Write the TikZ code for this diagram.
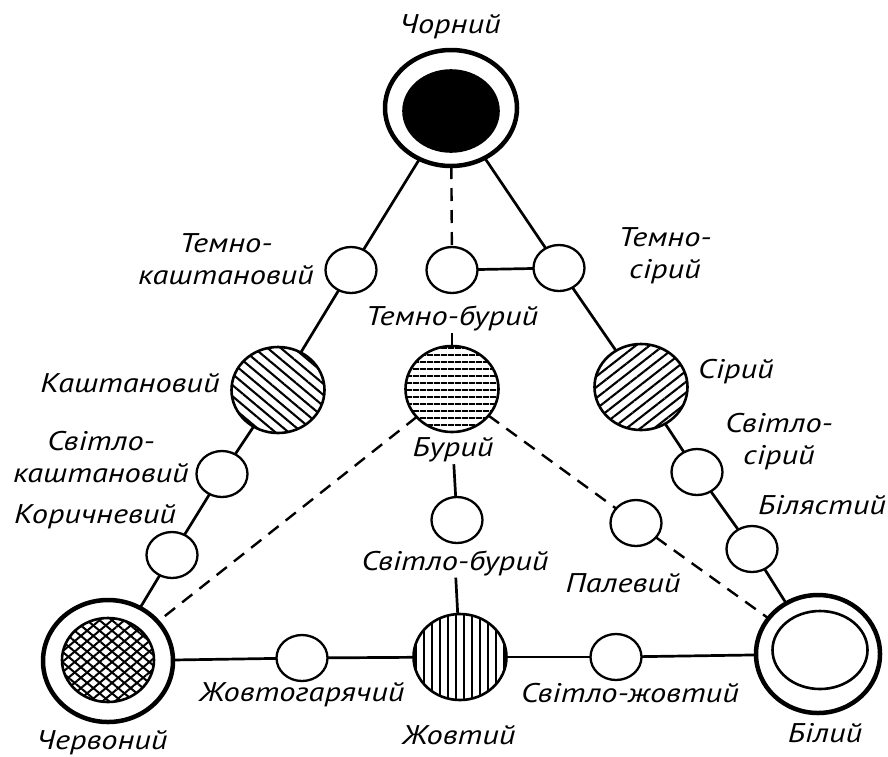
\documentclass[tikz,border=0pt]{standalone}
\usepackage{fontspec}
\newfontfamily\labfont{PT Sans}[FakeStretch=1.2]
\usetikzlibrary{shapes.geometric,patterns.meta}
\begin{document}
\begin{tikzpicture}[x=1pt,y=-1pt,
  every node/.style={inner sep=0pt,outer sep=0pt},
  lbl/.style={font=\labfont\itshape\fontsize{27}{32}\selectfont,align=center,inner sep=2pt},
  smallc/.style={ellipse,draw,line width=2.3pt,minimum width=51pt,minimum height=46pt,fill=white},
  midc/.style={ellipse,draw,line width=2.6pt,minimum width=93pt,minimum height=86pt},
  ring/.style={ellipse,draw,line width=4.5pt,fill=white},
  core/.style={ellipse,draw,line width=2.6pt},
  conn/.style={line width=2.7pt},
  dconn/.style={line width=2.4pt,dash pattern=on 13pt off 9pt}]
\useasboundingbox (0,0) rectangle (888,756);

% big ring nodes
\node[ring,minimum width=132pt,minimum height=116pt] (chor) at (451,108) {};
\node[core,fill=black,minimum width=95pt,minimum height=81pt] (chorc) at (451,111) {};
\node[ring,minimum width=130pt,minimum height=122pt] (cherv) at (108,661) {};
\node[core,minimum width=92pt,minimum height=84pt,
  pattern={Lines[angle=40,distance=8pt,line width=2pt]},
  postaction={pattern={Lines[angle=-40,distance=8pt,line width=2pt]}}] (chervc) at (108,660) {};
\node[ring,minimum width=124pt,minimum height=118pt] (bily) at (818,654) {};
\node[core,minimum width=95pt,minimum height=78pt] (bilyc) at (820,650) {};

% medium hatched nodes
\node[midc,pattern={Lines[angle=-40,distance=8.5pt,line width=2.1pt]}] (kash) at (278,390) {};
\node[midc,pattern={Lines[angle=0,distance=6.5pt,line width=1.9pt]}] (bur) at (452,389) {};
\node[midc,pattern={Lines[angle=38,distance=8.5pt,line width=2.1pt]}] (sir) at (641,387) {};
\node[midc,pattern={Lines[angle=90,distance=8pt,line width=2pt]}] (zh) at (460,657) {};

% small nodes
\node[smallc] (tk) at (351,270) {};
\node[smallc] (skash) at (222,474) {};
\node[smallc] (kor) at (172,555) {};
\node[smallc] (tb) at (452,270) {};
\node[smallc] (sbur) at (457,520) {};
\node[smallc] (ts) at (559,268) {};
\node[smallc] (ssir) at (697,472) {};
\node[smallc] (bil) at (752,549) {};
\node[smallc] (pal) at (636,523) {};
\node[smallc] (zhg) at (302,658) {};
\node[smallc] (szh) at (616,657) {};

% labels
\node[lbl] (lchor) at (450,27) {Чорний};
\node[lbl] (ltk) at (226,259) {Темно-\\каштановий};
\node[lbl] (lts) at (665,256) {Темно-\\сірий};
\node[lbl] (ltb) at (452,318) {Темно-бурий};
\node[lbl] (lkash) at (130,383) {Каштановий};
\node[lbl] (lsir) at (736,372) {Сірий};
\node[lbl] (lskash) at (101,457) {Світло-\\каштановий};
\node[lbl] (lssir) at (779,442) {Світло-\\сірий};
\node[lbl] (lbur) at (453,450) {Бурий};
\node[lbl] (lkor) at (95,517) {Коричневий};
\node[lbl] (lbil) at (822,505) {Білястий};
\node[lbl] (lsbur) at (455,563) {Світло-бурий};
\node[lbl] (lpal) at (623,583) {Палевий};
\node[lbl] (lzhg) at (302,695) {Жовтогарячий};
\node[lbl] (lszh) at (630,693) {Світло-жовтий};
\node[lbl] (lcherv) at (102,743) {Червоний};
\node[lbl] (lzh) at (459,735) {Жовтий};
\node[lbl] (lbily) at (825,733) {Білий};

% solid connectors
\draw[conn] (chor) -- (tk);
\draw[conn] (tk) -- (kash);
\draw[conn] (kash) -- (skash);
\draw[conn] (skash) -- (kor);
\draw[conn] (kor) -- (cherv);
\draw[conn] (chor) -- (ts);
\draw[conn] (ts) -- (sir);
\draw[conn] (sir) -- (ssir);
\draw[conn] (ssir) -- (bil);
\draw[conn] (bil) -- (bily);
\draw[conn] (cherv) -- (zhg);
\draw[conn] (zhg) -- (zh);
\draw[conn] (zh) -- (szh);
\draw[conn] (szh) -- (bily);
\draw[conn] (tb) -- (ts);
\draw[conn] (ltb) -- (bur);
\draw[conn] (lbur) -- (sbur);
\draw[conn] (lsbur) -- (zh);

% dashed connectors
\draw[dconn] (chor) -- (tb);
\draw[dconn] (bur) -- (cherv);
\draw[dconn] (bur) -- (pal);
\draw[dconn] (pal) -- (bily);
\end{tikzpicture}
\end{document}
